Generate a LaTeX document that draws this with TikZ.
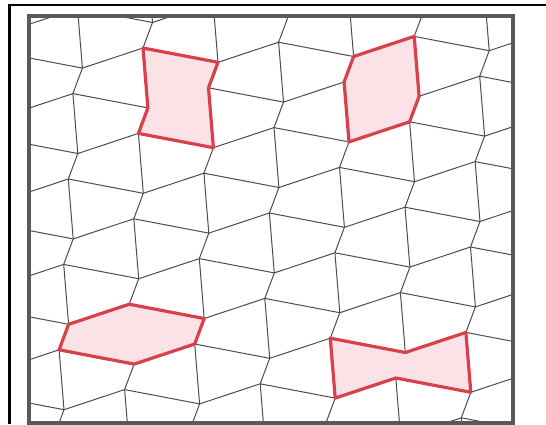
\documentclass[tikz,border=0pt]{standalone}
\usetikzlibrary{calc}
\definecolor{tilered}{RGB}{216,64,76}
\definecolor{tilepink}{RGB}{251,226,230}
\begin{document}
\begin{tikzpicture}[x=1pt,y=-1pt]
	\tikzstyle{edge}=[line width=1pt,draw=black!70]
	\tikzstyle{pair}=[line width=3.2pt,draw=tilered,fill=tilepink,line join=round]
	\tikzstyle{frame}=[line width=4pt,draw=black!65]

	\useasboundingbox (0,0) rectangle (546,424);

	\foreach \i in {0,...,10}
		\foreach \j in {0,...,12}
		{
			\pgfmathsetmacro{\px}{-55.8+67.8*\i-2.3*\j+7.2*(1-mod(\i+\j,2))}
			\pgfmathsetmacro{\py}{-28.7-2.9*\i+42.7*\j+17.2*(1-mod(\i+\j,2))}
			\coordinate (v\i_\j) at (\px,\py);
		}

	\begin{scope}
		\clip (29,16) rectangle (513,423);
		\foreach \i [count=\k] in {0,...,9}
			\foreach \j in {0,...,12}
				\draw[edge] (v\i_\j) -- (v\k_\j);
		\foreach \i in {0,...,10}
			\foreach \j [count=\k] in {0,...,11}
				\draw[edge] (v\i_\j) -- (v\i_\k);
	\end{scope}

	\draw[pair] (v3_2) -- (v4_2) -- (v4_3) -- (v4_4) -- (v3_4) -- (v3_3) -- cycle;
	\draw[pair] (v6_2) -- (v7_2) -- (v7_3) -- (v7_4) -- (v6_4) -- (v6_3) -- cycle;
	\draw[pair] (v2_8) -- (v3_8) -- (v4_8) -- (v4_9) -- (v3_9) -- (v2_9) -- cycle;
	\draw[pair] (v6_9) -- (v7_9) -- (v8_9) -- (v8_10) -- (v7_10) -- (v6_10) -- cycle;

	\draw[frame] (29,16) rectangle (513,423);
	\draw[line width=2.5pt] (546,5) -- (9.5,5) -- (9.5,424);
\end{tikzpicture}
\end{document}
